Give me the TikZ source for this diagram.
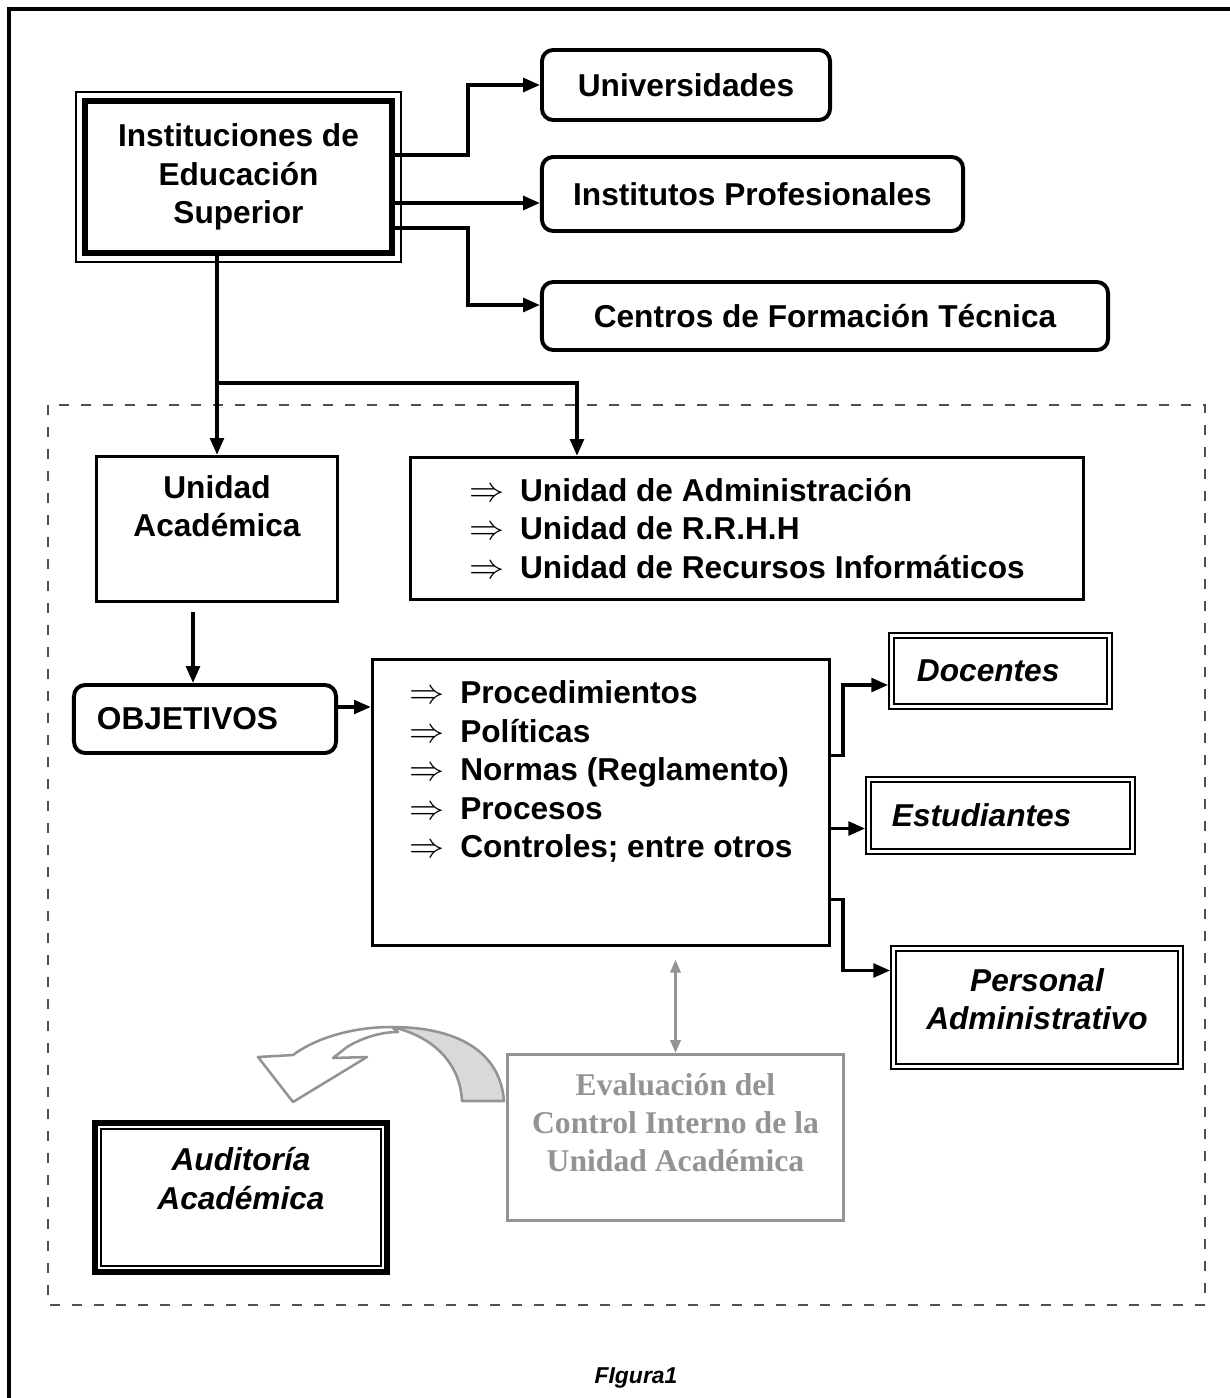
\documentclass[tikz,border=0pt]{standalone}
\usepackage{fontspec}
\setmainfont{Liberation Sans}
\newfontfamily\evalfont{Liberation Serif}
\usetikzlibrary{arrows.meta,positioning,calc}
\definecolor{EvalGray}{HTML}{939393}
\definecolor{CurveFill}{HTML}{D9D9D9}
\definecolor{FrameDash}{HTML}{505050}
\newcommand{\flecha}{{\fontsize{25}{25}\selectfont$\Rightarrow$}\hspace{0.5em}}

\begin{document}
\begin{tikzpicture}[x=0.025cm,y=-0.025cm]
    \tikzset{txt/.style={font=\bfseries\fontsize{22.5}{27.3}\selectfont,align=center},
      itx/.style={font=\bfseries\itshape\fontsize{22.5}{27.3}\selectfont},
      rbox/.style={txt,draw,line width=2.8pt,rounded corners=8pt},
      sbox/.style={txt,draw,line width=2.3pt},
      dbox/.style={txt,itx,draw,line width=1.1pt,double=white,double distance=2.4pt,outer sep=2.3pt},
      conn/.style={line width=2.5pt,-{Triangle[length=0.42cm,width=0.34cm]}}}
    \useasboundingbox (0,0) rectangle (1229,1398);
    \draw[line width=2.8pt] (9,1420) -- (9,9) -- (1240,9);
    \draw[FrameDash,line width=1.4pt,dash pattern=on 0.25cm off 0.3cm] (48,405) rectangle (1205,1305);
    % top level
    \node[txt,draw,line width=4.2pt,minimum width=7.675cm,minimum height=3.8cm] (ies) at (238.5,177) {Instituciones de\\Educación\\Superior};
    \draw[line width=1.4pt] ($(ies.north west)+(-6,-6)$) rectangle ($(ies.south east)+(6,6)$);
    \node[rbox,minimum width=7.2cm,minimum height=1.75cm] (uni) at (686,85) {Universidades};
    \node[rbox,minimum width=10.525cm,minimum height=1.85cm] (ip) at (752.5,194) {Institutos Profesionales};
    \node[rbox,minimum width=14.15cm,minimum height=1.7cm] (cft) at (825,316) {Centros de Formación Técnica};
    % unidades
    \node[sbox,minimum width=6.025cm,minimum height=3.625cm] (ua) at (217,529) {Unidad\\Académica\\[5pt]\mbox{}};
    \node[sbox,align=left,minimum width=16.825cm,minimum height=3.55cm] (rrhh) at (747,528.5) {\flecha Unidad de Administración\\\flecha Unidad de R.R.H.H\\\flecha Unidad de Recursos Informáticos};
    \node[rbox,align=left,text width=5.4cm,inner xsep=0.575cm,minimum height=1.7cm] (obj) at (205,719) {OBJETIVOS};
    \node[sbox,align=left,minimum width=11.425cm,minimum height=7.15cm] (proc) at (601,802.5) {\flecha Procedimientos\\\flecha Políticas\\\flecha Normas (Reglamento)\\\flecha Procesos\\\flecha Controles; entre otros\\[20pt]\mbox{}};
    \node[dbox,align=left,text width=4.175cm,inner xsep=0.64cm,minimum height=1.775cm] (doc) at (1000.5,671) {Docentes};
    \node[dbox,align=left,text width=5.425cm,inner xsep=0.59cm,minimum height=1.8cm] (est) at (1000.5,815.5) {Estudiantes};
    \node[dbox,minimum width=7.175cm,minimum height=2.95cm] (pers) at (1037,1007.5) {Personal\\Administrativo\\[-15pt]\mbox{}};
    \node[draw=EvalGray,text=EvalGray,line width=2.3pt,align=center,font=\evalfont\bfseries\fontsize{22.5}{27.3}\selectfont,minimum width=8.4cm,minimum height=4.15cm] (eval) at (675.5,1137.5) {Evaluación del\\Control Interno de la\\Unidad Académica\\[-6pt]\mbox{}};
    \node[txt,itx,draw,line width=4.2pt,minimum width=7.3cm,minimum height=3.725cm] (aud) at (241,1197.5) {Auditoría\\Académica\\[0pt]\mbox{}};
    \draw[line width=0.9pt] ($(aud.north west)+(9,9)$) rectangle ($(aud.south east)+(-9,-9)$);
    % connectors
    \draw[conn] ($(ies.east)+(0,-22)$) -- ++(73,0) |- (uni.west);
    \draw[conn] ($(ies.east)+(0,26)$) coordinate (p2) -- (p2 -| ip.west);
    \draw[conn] ($(ies.east)+(0,51)$) -- ++(73,0) |- ($(cft.west)+(0,-11)$);
    \draw[conn] (ies.south -| ua.north) -- (ua.north);
    \draw[conn] ($(ua.north)+(0,-72)$) -| ($(rrhh.north)+(-170,0)$);
    \draw[conn] ($(ua.south)+(-24,9)$) coordinate (p6) -- (p6 |- obj.north);
    \draw[conn] ($(obj.east)+(0,-12)$) coordinate (p7) -- (p7 -| proc.west);
    \draw[conn] ($(proc.east)+(0,-47)$) -- ++(12,0) |- ($(doc.west)+(0,14)$);
    \draw[conn] ($(proc.east)+(0,26)$) coordinate (p9) -- (p9 -| est.west);
    \draw[conn] ($(proc.east)+(0,97)$) -- ++(12,0) |- ($(pers.west)+(0,-37)$);
    \draw[EvalGray,line width=1.7pt,{Triangle[length=0.32cm,width=0.26cm]}-{Triangle[length=0.32cm,width=0.26cm]}] ($(eval.north)+(0,-93)$) -- (eval.north);
    % curved arrow
    \filldraw[draw=EvalGray,fill=CurveFill,line width=1.8pt,line join=round] (462,1101) -- (504,1101) .. controls (500,1050) and (455,1027) .. (392,1027) .. controls (432,1036) and (460,1062) .. (462,1101) -- cycle;
    \filldraw[draw=EvalGray,fill=white,line width=1.8pt,line join=round] (392,1027) .. controls (345,1027) and (310,1042) .. (293,1055) -- (258,1057) -- (293,1102) -- (367,1057) -- (333,1058) -- (347,1047) .. controls (362,1038) and (380,1032) .. (398,1032) -- cycle;
    \node[font=\bfseries\itshape\fontsize{16.3}{20}\selectfont] (fig) at (636,1378) {FIgura1};
  \end{tikzpicture}
\end{document}
